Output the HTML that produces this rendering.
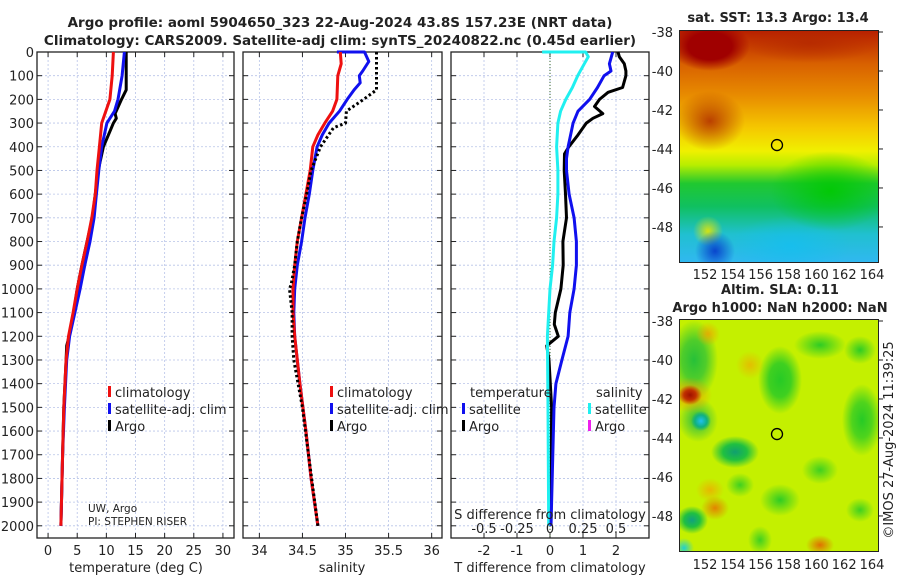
<!DOCTYPE html>
<html><head><meta charset="utf-8"><style>
html,body{margin:0;padding:0;background:#fff;width:900px;height:580px;overflow:hidden;position:relative}
svg{display:block;font-family:"DejaVu Sans","Liberation Sans",sans-serif;position:absolute;left:0;top:0;z-index:2}
.map{position:absolute;overflow:hidden;border:1px solid #222;z-index:1}
</style></head><body>
<svg id="chart" width="900" height="580"></svg>
<div class="map" style="left:679px;top:30px;width:198px;height:231px;
background:
radial-gradient(ellipse 40px 25px at 30px 15px,#a00000 0%,#a00000 55%,rgba(160,0,0,0) 100%),
radial-gradient(ellipse 70px 20px at 130px 12px,rgba(180,40,0,.8) 0%,rgba(180,40,0,0) 100%),
radial-gradient(ellipse 35px 30px at 30px 90px,rgba(180,50,0,.9) 0%,rgba(180,50,0,0) 100%),
radial-gradient(ellipse 20px 20px at 35px 220px,rgba(0,40,200,.8) 0%,rgba(0,40,200,0) 100%),
radial-gradient(ellipse 15px 15px at 28px 200px,rgba(230,230,0,.9) 0%,rgba(230,230,0,0) 100%),
radial-gradient(ellipse 60px 40px at 150px 160px,rgba(0,200,0,.9) 0%,rgba(0,200,0,0) 100%),
radial-gradient(ellipse 60px 30px at 110px 215px,rgba(20,190,240,.8) 0%,rgba(20,190,240,0) 100%),
linear-gradient(to bottom,#b82000 0%,#d86000 14%,#e88c00 28%,#f5c800 42%,#f0f000 52%,#b8ee00 58%,#20c830 66%,#10c060 76%,#20c0d0 88%,#30b8f0 100%);"></div>
<div class="map" style="left:679px;top:319px;width:198px;height:231px;
background:
radial-gradient(ellipse 12px 10px at 10px 75px,#a01000 0%,#c03000 50%,rgba(240,120,0,0) 100%),
radial-gradient(ellipse 22px 18px at 10px 75px,rgba(240,150,0,.9) 0%,rgba(240,150,0,0) 100%),
radial-gradient(ellipse 10px 10px at 21px 101px,#20c0f0 0%,#10b080 60%,rgba(16,176,128,0) 100%),
radial-gradient(ellipse 20px 22px at 18px 100px,rgba(20,180,80,.95) 0%,rgba(20,180,80,0) 100%),
radial-gradient(ellipse 24px 16px at 55px 132px,#10a070 0%,#20c040 50%,rgba(30,200,40,0) 100%),
radial-gradient(ellipse 16px 14px at 12px 200px,#10a080 0%,#20c040 50%,rgba(30,200,40,0) 100%),
radial-gradient(ellipse 10px 10px at 4px 228px,#20d0d0 0%,rgba(30,200,200,0) 100%),
radial-gradient(ellipse 14px 10px at 140px 225px,#e07000 0%,rgba(240,180,0,0) 100%),
radial-gradient(ellipse 14px 12px at 35px 188px,rgba(230,120,0,.9) 0%,rgba(240,180,0,0) 100%),
radial-gradient(ellipse 14px 12px at 30px 170px,rgba(240,170,0,.8) 0%,rgba(240,180,0,0) 100%),
radial-gradient(ellipse 12px 12px at 28px 14px,rgba(240,160,0,.8) 0%,rgba(240,180,0,0) 100%),
radial-gradient(ellipse 14px 14px at 70px 45px,rgba(240,170,0,.7) 0%,rgba(240,180,0,0) 100%),
radial-gradient(ellipse 22px 34px at 100px 60px,rgba(30,200,40,.95) 0%,rgba(30,200,40,.8) 50%,rgba(30,200,40,0) 100%),
radial-gradient(ellipse 26px 14px at 140px 25px,rgba(30,200,40,.9) 0%,rgba(30,200,40,0) 100%),
radial-gradient(ellipse 20px 36px at 182px 100px,rgba(30,200,40,.95) 0%,rgba(30,200,40,.7) 50%,rgba(30,200,40,0) 100%),
radial-gradient(ellipse 16px 14px at 180px 30px,rgba(30,200,40,.9) 0%,rgba(30,200,40,0) 100%),
radial-gradient(ellipse 24px 40px at 14px 40px,rgba(30,190,60,.95) 0%,rgba(30,190,60,.7) 50%,rgba(30,190,60,0) 100%),
radial-gradient(ellipse 20px 16px at 100px 180px,rgba(30,200,40,.9) 0%,rgba(30,200,40,0) 100%),
radial-gradient(ellipse 18px 14px at 140px 150px,rgba(30,200,40,.8) 0%,rgba(30,200,40,0) 100%),
radial-gradient(ellipse 14px 12px at 60px 165px,rgba(30,200,40,.8) 0%,rgba(30,200,40,0) 100%),
radial-gradient(ellipse 14px 12px at 180px 190px,rgba(30,200,40,.8) 0%,rgba(30,200,40,0) 100%),
radial-gradient(ellipse 12px 14px at 80px 220px,rgba(30,200,40,.8) 0%,rgba(30,200,40,0) 100%),
linear-gradient(#c4f000,#c4f000);"></div>
<script>
// ---- data (depth in dbar) ----
const tClimDepth=[0,100,200,300,400,500,600,700,800,900,1000,1100,1200,1300,1500,1700,2000];
const tClim=[11.2,11.0,10.6,9.2,8.8,8.4,8.1,7.5,6.7,5.8,5.0,4.3,3.5,3.1,2.7,2.5,2.2];
const tSatDepth=[0,100,200,250,300,400,500,600,700,800,900,1000,1100,1200,1300,1500,1700,2000];
const tSat=[13.1,12.7,12.0,11.4,10.1,9.2,8.7,8.3,7.9,7.2,6.3,5.5,4.6,3.7,3.2,2.8,2.5,2.2];
const tArgoDepth=[0,160,200,260,280,300,400,500,700,800,900,1000,1100,1200,1240,1300,1500,1700,2000];
const tArgo=[13.4,13.4,12.6,11.5,11.7,11.2,9.5,8.6,7.6,6.7,5.8,5.0,4.4,3.6,3.2,3.1,2.7,2.5,2.2];
const sClimDepth=[0,50,100,200,250,300,350,400,500,600,700,800,900,1000,1100,1200,1400,1600,1800,2000];
const sClim=[34.94,34.95,34.91,34.90,34.85,34.76,34.68,34.62,34.59,34.54,34.49,34.44,34.41,34.39,34.39,34.41,34.47,34.54,34.60,34.68];
const sSatDepth=[0,0,40,80,100,130,160,200,250,300,350,400,500,600,700,800,900,1000,1100,1200,1400,1600,1800,2000];
const sSat=[34.9,35.22,35.27,35.20,35.16,35.17,35.10,35.02,34.93,34.81,34.73,34.67,34.62,34.58,34.53,34.49,34.44,34.41,34.40,34.41,34.47,34.54,34.60,34.68];
const sArgoDepth=[0,160,200,250,300,320,400,500,600,700,800,900,980,1000,1100,1200,1300,1500,1700,2000];
const sArgo=[35.36,35.36,35.21,35.01,35.0,34.86,34.71,34.6,34.55,34.49,34.44,34.41,34.37,34.35,34.38,34.38,34.40,34.50,34.57,34.68];
const dTSatDepth=[0,50,80,100,150,200,250,300,400,450,500,600,700,800,900,1000,1100,1200,1300,1400,1500,2000];
const dTSat=[1.9,1.8,1.85,1.64,1.44,1.2,0.85,0.7,0.55,0.5,0.5,0.58,0.73,0.8,0.8,0.73,0.6,0.55,0.36,0.18,0.12,0.03];
const dTArgoDepth=[0,20,50,80,100,150,170,200,230,260,280,300,350,400,430,500,600,700,800,900,1000,1100,1150,1200,1240,1300,1500,2000];
const dTArgo=[2.06,2.1,2.25,2.3,2.3,2.2,1.76,1.5,1.35,1.6,1.3,1.1,0.85,0.57,0.44,0.43,0.47,0.5,0.39,0.4,0.33,0.16,0.13,0.25,-0.1,-0.03,0.05,0.03];
const dSSatDepth=[0,0,20,50,100,150,200,250,300,400,500,600,700,800,900,1000,1200,1500,2000];
const dSSat=[-0.06,0.27,0.29,0.26,0.21,0.17,0.12,0.08,0.06,0.05,0.06,0.06,0.05,0.03,0.02,0.0,-0.02,-0.015,-0.01];
const depthTicks=[0,100,200,300,400,500,600,700,800,900,1000,1100,1200,1300,1400,1500,1600,1700,1800,1900,2000];
const tTicks=[0,5,10,15,20,25,30];
const sTicks=[34,34.5,35,35.5,36];
const sTickLabels=["34","34.5","35","35.5","36"];
const dTTicks=[-2,-1,0,1,2];
const dSTicks=[-0.5,-0.25,0,0.25,0.5];
const dSTickLabels=["-0.5","-0.25","0","0.25","0.5"];
const latTicks=[-38,-40,-42,-44,-46,-48];
const lonTicks=[152,154,156,158,160,162,164];

const NS="http://www.w3.org/2000/svg";
const svg=document.getElementById('chart');
function el(tag,attrs,parent){const e=document.createElementNS(NS,tag);for(const k in attrs)e.setAttribute(k,attrs[k]);(parent||svg).appendChild(e);return e;}
function txt(s,x,y,o,name){const t=el('text',Object.assign({x:x,y:y,'font-size':13,fill:'#222'},o||{}));t.textContent=s;

return t;}
const Y0=52,Y1=538;
const yD=d=>Y0+d*(526.5-52.7)/2000;
const panels=[
 {name:'temperature-panel',x0:37,x1:234,lo:-1.9,hi:31.9},
 {name:'salinity-panel',x0:243,x1:442,lo:33.81,hi:36.12},
 {name:'difference-panel',x0:451,x1:649,lo:-3.0,hi:3.0}];
function xf(p){return v=>p.x0+(v-p.lo)/(p.hi-p.lo)*(p.x1-p.x0);}
const xT=xf(panels[0]),xS=xf(panels[1]),xD=xf(panels[2]);
const xDS=v=>xD(v*4);

txt('Argo profile: aoml 5904650_323 22-Aug-2024 43.8S 157.23E (NRT data)',340,27,{'text-anchor':'middle','font-weight':'bold','font-size':13.5},'title-line-1');
txt('Climatology: CARS2009. Satellite-adj clim: synTS_20240822.nc (0.45d earlier)',340,45,{'text-anchor':'middle','font-weight':'bold','font-size':13.5},'title-line-2');

panels.forEach((p,i)=>{
 const g=el('g',{});
 
 
 const ticks=i==0?tTicks:(i==1?sTicks:dTTicks);const f=[xT,xS,xD][i];
 depthTicks.forEach(d=>{const l=el('line',{x1:p.x0,x2:p.x1,y1:yD(d),y2:yD(d),stroke:'#b8c4e8','stroke-width':0.8,'stroke-dasharray':'2,2'},g);
  
  const t=el('line',{x1:p.x0,x2:p.x0+5,y1:yD(d),y2:yD(d),stroke:'#222'},g);
  const t2=el('line',{x1:p.x1,x2:p.x1-5,y1:yD(d),y2:yD(d),stroke:'#222'},g);});
 ticks.forEach((v,j)=>{const x=f(v);const l=el('line',{x1:x,x2:x,y1:Y0,y2:Y1,stroke:'#b8c4e8','stroke-width':0.8,'stroke-dasharray':'2,2'},g);
  
  const t=el('line',{x1:x,x2:x,y1:Y1,y2:Y1-5,stroke:'#222'},g);
  const t2=el('line',{x1:x,x2:x,y1:Y0,y2:Y0+5,stroke:'#222'},g);
  txt(i==1?sTickLabels[j]:String(v),x,555,{'text-anchor':'middle'},'x-tick-label');});
 const r=el('rect',{x:p.x0,y:Y0,width:p.x1-p.x0,height:Y1-Y0,fill:'none',stroke:'#222','stroke-width':1.3},g);
 
});
depthTicks.forEach(d=>txt(String(d),34,yD(d)+5,{'text-anchor':'end'},'y-tick-label'));
txt('temperature (deg C)',136,572,{'text-anchor':'middle'},'x-axis-title-temperature');
txt('salinity',342,572,{'text-anchor':'middle'},'x-axis-title-salinity');
txt('T difference from climatology',550,572,{'text-anchor':'middle'},'x-axis-title-difference');

function line(xs,ds,fx,color,name,dash){const pts=xs.map((v,k)=>fx(v).toFixed(1)+','+yD(ds[k]).toFixed(1)).join(' ');
 const pl=el('polyline',{points:pts,fill:'none',stroke:color,'stroke-width':3,'stroke-linejoin':'round'});
 if(dash)pl.setAttribute('stroke-dasharray',dash);
 }
const z=el('line',{x1:xD(0),x2:xD(0),y1:Y0,y2:Y1,stroke:'#3a6a2a','stroke-width':1,'stroke-dasharray':'1,2'});

line(tArgo,tArgoDepth,xT,'#000','temperature-argo-line');
line(tSat,tSatDepth,xT,'#1010ee','temperature-satellite-line');
line(tClim,tClimDepth,xT,'#ee1010','temperature-climatology-line');
line(sSat,sSatDepth,xS,'#1010ee','salinity-satellite-line');
line(sClim,sClimDepth,xS,'#ee1010','salinity-climatology-line');
line(sArgo,sArgoDepth,xS,'#000','salinity-argo-line','2.5,2.5');
line(dTArgo,dTArgoDepth,xD,'#000','temp-diff-argo-line');
line(dSSat,dSSatDepth,xDS,'#20f0f0','sal-diff-satellite-line');
line(dTSat,dTSatDepth,xD,'#1010ee','temp-diff-satellite-line');

function legend(x,y,color,label,name){const r=el('rect',{x:x,y:y-11,width:3,height:11,fill:color});
 
 txt(label,x+7,y,{},name);}
legend(108,397,'#ee1010','climatology','legend-climatology');
legend(108,414,'#1010ee','satellite-adj. clim','legend-satellite');
legend(108,431,'#000','Argo','legend-argo');
legend(330,397,'#ee1010','climatology','legend-climatology-2');
legend(330,414,'#1010ee','satellite-adj. clim','legend-satellite-2');
legend(330,431,'#000','Argo','legend-argo-2');
txt('temperature',470,397,{},'legend-temperature-heading');
txt('salinity',596,397,{},'legend-salinity-heading');
legend(462,414,'#1010ee','satellite','legend-temp-satellite');
legend(462,431,'#000','Argo','legend-temp-argo');
legend(588,414,'#20f0f0','satellite','legend-sal-satellite');
legend(588,431,'#ee20ee','Argo','legend-sal-argo');
txt('UW, Argo',88,512,{'font-size':10.5},'institution-label');
txt('PI: STEPHEN RISER',88,525,{'font-size':10.5},'pi-label');
txt('S difference from climatology',550,519,{'text-anchor':'middle'},'s-axis-title');
dSTicks.forEach((v,j)=>txt(dSTickLabels[j],xDS(v),533,{'text-anchor':'middle'},'s-tick-label'));

function mapAxes(top,bottom,name,lonY){
 const k=(bottom-top)/11.9;
 latTicks.forEach(l=>{const y=top+2+(-38-l)*k;txt(String(l),673,y+5,{'text-anchor':'end'},name+'-lat-label');
  const t=el('line',{x1:878,x2:883,y1:y,y2:y,stroke:'#222'});});
 lonTicks.forEach(l=>{const x=705+(l-152)*13.92;txt(String(l),x,lonY,{'text-anchor':'middle'},name+'-lon-label');});
 const c=el('circle',{cx:777,cy:top+2+5.8*k,r:5.5,fill:'none',stroke:'#000','stroke-width':1.3});
 
}
mapAxes(30,262,'sst-map',279);
mapAxes(319,551,'sla-map',569);
txt('sat. SST: 13.3  Argo: 13.4',778,22,{'text-anchor':'middle','font-weight':'bold'},'sst-map-title');
txt('Altim. SLA: 0.11',780,294,{'text-anchor':'middle','font-weight':'bold'},'sla-map-title');
txt('Argo h1000: NaN h2000: NaN',780,312,{'text-anchor':'middle','font-weight':'bold'},'sla-map-subtitle');
txt('©IMOS 27-Aug-2024 11:39:25',893,440,{'text-anchor':'middle',transform:'rotate(-90 893 440)'},'copyright-timestamp');
</script>
</body></html>
